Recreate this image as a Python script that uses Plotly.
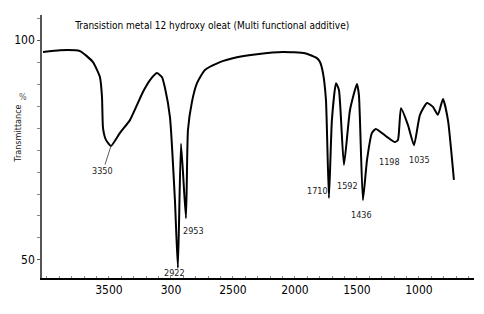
import plotly.graph_objects as go

# Spectrum (wavenumber cm-1, transmittance %)
wavenumber = [4032, 3895, 3734, 3629, 3573, 3556, 3548, 3524, 3484, 3411, 3331, 3226, 3169, 3113,
              3073, 3048, 3008, 2968, 2944, 2919, 2879, 2863, 2831, 2790, 2726, 2605, 2468, 2306,
              2097, 1919, 1823, 1798, 1774, 1750, 1726, 1702, 1669, 1645, 1605, 1556, 1500, 1484,
              1452, 1419, 1379, 1347, 1258, 1194, 1169, 1145, 1089, 1040, 992, 935, 887, 847, 806,
              766, 718]
transmittance = [97.3, 97.7, 97.5, 95.0, 91.6, 87.0, 80.0, 77.3, 75.9, 78.9, 81.8, 88.2, 90.9, 92.5,
                 91.6, 89.1, 82.5, 63.6, 48.2, 76.4, 59.5, 79.5, 85.9, 90.2, 93.2, 95.0, 96.1, 96.8,
                 97.3, 97.0, 95.9, 95.0, 92.5, 86.4, 64.1, 81.8, 90.2, 88.6, 71.6, 84.1, 90.0, 87.5,
                 63.6, 72.7, 78.9, 79.8, 78.0, 76.8, 77.3, 84.5, 80.7, 76.1, 83.0, 85.7, 84.8, 83.0, 86.6,
                 81.8, 68.2]

x_tick_vals = [3500, 3000, 2500, 2000, 1500, 1000]
x_tick_text = ["3500", "300", "2500", "2000", "1500", "1000"]
y_tick_vals = [50, 100]
y_tick_text = ["50", "100"]

peak_labels = ["3350", "2922", "2953", "1710", "1592", "1436", "1198", "1035"]
peak_label_x = [3548, 2968, 2815, 1815, 1573, 1460, 1234, 992]
peak_label_y = [70.7, 47.0, 56.6, 65.7, 66.8, 60.2, 72.3, 72.7]

FONT = "Liberation Sans Narrow, DejaVu Sans Condensed, Arial Narrow, sans-serif"

fig = go.Figure()
fig.add_trace(go.Scatter(x=wavenumber, y=transmittance, mode="lines",
                         line=dict(color="black", width=2, shape="spline", smoothing=0.5),
                         hoverinfo="skip", showlegend=False))

for i, lab in enumerate(peak_labels):
    if lab == "3350":
        fig.add_annotation(x=wavenumber[8], y=transmittance[8], text=lab, showarrow=True,
                           arrowhead=0, arrowwidth=0.8, arrowcolor="#333", ax=-8, ay=25,
                           standoff=0, font=dict(family=FONT, size=9, color="#222"))
    else:
        fig.add_annotation(x=peak_label_x[i], y=peak_label_y[i], text=lab, showarrow=False,
                           font=dict(family=FONT, size=9, color="#222"))

fig.add_annotation(xref="paper", yref="paper", x=-0.056, y=0.548, text="Transmittance",
                   textangle=-90, showarrow=False, xanchor="center", yanchor="middle",
                   font=dict(family=FONT, size=9, color="#222"))
fig.add_annotation(xref="paper", yref="paper", x=-0.044, y=0.688, text="%",
                   showarrow=False, xanchor="center", yanchor="middle",
                   font=dict(family=FONT, size=9, color="#555"))

fig.update_layout(
    width=476, height=306,
    margin=dict(l=34, r=10, t=7, b=36),
    paper_bgcolor="white", plot_bgcolor="white",
    title=dict(text="Transistion metal 12 hydroxy oleat (Multi functional additive)",
               xref="paper", x=0.394, xanchor="center", y=0.944, yanchor="middle",
               font=dict(family=FONT, size=10, color="black")),
    xaxis=dict(range=[4040, 556], tickvals=x_tick_vals, ticktext=x_tick_text,
               showgrid=False, zeroline=False, showline=True, linecolor="black", linewidth=1.5,
               ticks="", tickfont=dict(family=FONT, size=12, color="black"),
               minor=dict(ticks="inside", ticklen=2, dtick=100, tickcolor="#888")),
    yaxis=dict(range=[45.9, 105.7], tickvals=y_tick_vals, ticktext=y_tick_text,
               showgrid=False, zeroline=False, showline=True, linecolor="#555", linewidth=1.5,
               ticks="outside", ticklen=3, tickcolor="#555",
               tickfont=dict(family=FONT, size=12, color="black"),
               minor=dict(ticks="outside", ticklen=3, dtick=5, tickcolor="#888")),
)

fig.write_html("out.html")
